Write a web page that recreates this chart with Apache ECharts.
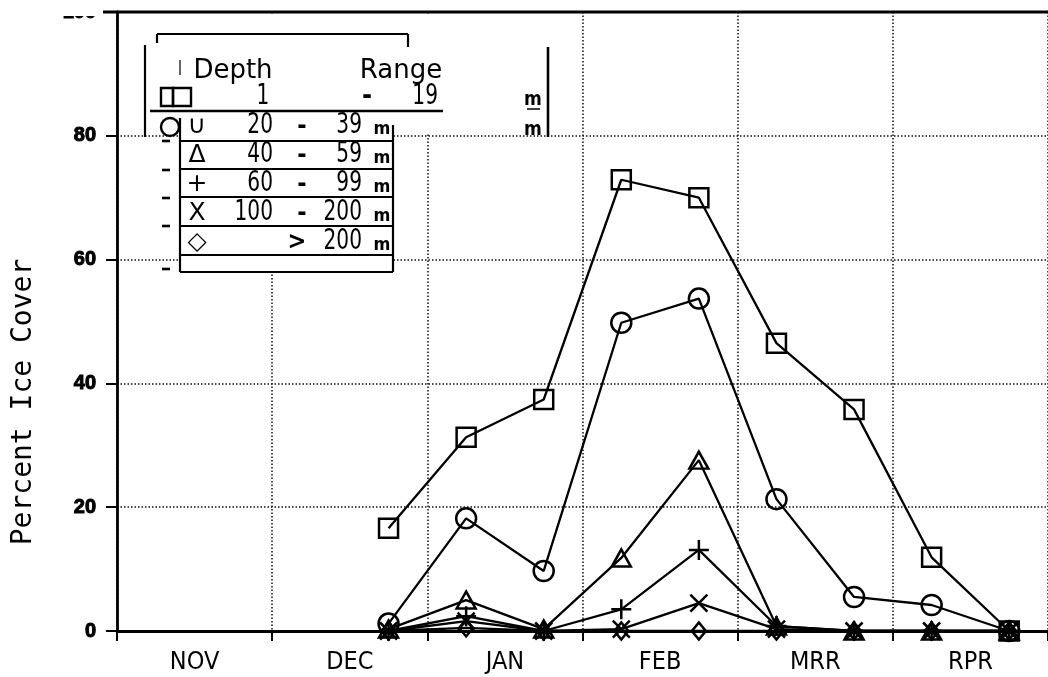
<!DOCTYPE html>
<html>
<head>
<meta charset="utf-8">
<script src="https://cdn.jsdelivr.net/npm/echarts@6/dist/echarts.min.js"></script>
<style>
html,body{margin:0;padding:0;background:#fff;}
#chart{width:1048px;height:677px;}
</style>
</head>
<body>
<div id="chart"></div>
<script>
// ---- data ----
const months = ['NOV', 'DEC', 'JAN', 'FEB', 'MRR', 'RPR'];
// sample positions in months after 1 November (semi-monthly)
const samplePos = [1.75, 2.25, 2.75, 3.25, 3.75, 4.25, 4.75, 5.25, 5.75];
const depth1to19   = [16.6, 31.3, 37.4, 72.9, 70.0, 46.5, 35.8, 11.9, 0];
const depth20to39  = [1.2, 18.2, 9.7, 49.8, 53.7, 21.3, 5.5, 4.2, 0];
const depth40to59  = [0.3, 5.0, 0.3, 11.8, 27.6, 0.8, 0, 0, 0];
const depth60to99  = [0, 2.4, 0, 3.5, 13.1, 0.8, 0, 0, 0];
const depth100to200= [0, 1.6, 0, 0.3, 4.5, 0.3, 0, 0, 0];
const depthOver200 = [0, 0.5, 0, 0, 0, 0, 0, 0, 0];
const yTicks = [0, 20, 40, 60, 80, 100];
const legendSymbols = ['', '\u222A', '\u0394', '+', 'X', '\u25C7'];
const legendFrom = ['1', '20', '40', '60', '100', ''];
const legendSep  = ['-', '-', '-', '-', '-', '>'];
const legendTo   = ['19', '39', '59', '99', '200', '200'];

const chart = echarts.init(document.getElementById('chart'), null, {renderer: 'canvas'});

function pts(arr) { return samplePos.map((x, i) => [x, arr[i]]); }

const baseSeries = {
  type: 'line', xAxisIndex: 0, yAxisIndex: 0,
  lineStyle: {color: '#000', width: 2.3},
  itemStyle: {color: 'none', borderColor: '#000', borderWidth: 2.5},
  emphasis: {disabled: true},
  silent: true, animation: false
};
const seriesDefs = [
  {name: '>200', data: depthOver200, symbol: 'diamond', symbolSize: [14, 17]},
  {name: '100-200', data: depth100to200, symbol: 'path://M0,0L20,20M20,0L0,20', symbolSize: 17},
  {name: '60-99', data: depth60to99, symbol: 'path://M10,0L10,20M0,10L20,10', symbolSize: 20},
  {name: '40-59', data: depth40to59, symbol: 'triangle', symbolSize: [19, 17]},
  {name: '20-39', data: depth20to39, symbol: 'circle', symbolSize: 20},
  {name: '1-19', data: depth1to19, symbol: 'rect', symbolSize: 19}
];
const series = seriesDefs.map(d => Object.assign({}, baseSeries, {
  name: d.name, data: pts(d.data), symbol: d.symbol, symbolSize: d.symbolSize, showAllSymbol: true
}));

// ---- legend graphics ----
const NUM = "'Liberation Sans Narrow', 'DejaVu Sans Condensed', sans-serif";
const G = [];
function txt(x, y, s, size, opts) {
  opts = opts || {};
  G.push({type: 'text', x: x, y: y, z: 101, silent: true, scaleX: opts.sx || 1, style: {
    text: s, fill: '#000',
    font: (opts.weight || 'normal') + ' ' + size + 'px ' + (opts.family || NUM),
    align: opts.align || 'center', verticalAlign: 'middle'
  }});
}
function ln(x1, y1, x2, y2, w) {
  G.push({type: 'line', z: 101, silent: true, shape: {x1: x1, y1: y1, x2: x2, y2: y2}, style: {stroke: '#000', lineWidth: w || 2}});
}
// white backing (legend covers the grid)
G.push({type: 'rect', z: 100, silent: true, shape: {x: 120, y: 14, width: 428, height: 120}, style: {fill: '#fff'}});
G.push({type: 'rect', z: 100, silent: true, shape: {x: 180, y: 111, width: 213, height: 161}, style: {fill: '#fff'}});
// cut-off "100" label at the very top
G.push({type: 'rect', z: 100, silent: true, shape: {x: 40, y: 0, width: 70, height: 16}, style: {fill: '#fff'}});
// frame
ln(157, 34, 408, 34, 2.2); ln(157, 34, 157, 43, 2.2); ln(408, 34, 408, 47, 2.2);
ln(145, 45, 145, 137, 2.2);
ln(548, 47, 548, 137, 2.6);
ln(180, 60, 180, 75, 1.2);
ln(150, 111, 443, 111, 2.6);
ln(180, 118, 180, 272, 2.2); ln(393, 125, 393, 272, 2.2); ln(180, 272, 393, 272, 2.2);
[141, 169, 197, 226, 255].forEach(y => ln(180, y, 393, y, 2.2));
[141, 170, 198, 226, 269].forEach(y => ln(162, y, 170, y, 2.6));
// header
txt(233, 71, 'Depth', 26, {family: 'DejaVu Sans'});
txt(401, 71, 'Range', 26, {family: 'DejaVu Sans'});
// row 1 symbol (double box) and row 2 circle
G.push({type: 'rect', z: 101, silent: true, shape: {x: 161, y: 88, width: 12, height: 18}, style: {fill: 'none', stroke: '#000', lineWidth: 2.4}});
G.push({type: 'rect', z: 101, silent: true, shape: {x: 173, y: 88, width: 18, height: 18}, style: {fill: 'none', stroke: '#000', lineWidth: 2.4}});
G.push({type: 'circle', z: 101, silent: true, shape: {cx: 170, cy: 127, r: 9}, style: {fill: 'none', stroke: '#000', lineWidth: 2.4}});
txt(263, 97, legendFrom[0], 28, {sx: 0.8});
txt(367, 97, legendSep[0], 27, {weight: 'bold'});
txt(438, 97, legendTo[0], 28, {align: 'right', sx: 0.8});
txt(533, 100, 'm', 19, {weight: 'bold'});
ln(527, 109, 540, 109, 1.5);
txt(533, 130, 'm', 19, {weight: 'bold'});
const rowY = [97, 126, 155, 184, 213, 242];
for (let i = 1; i < 6; i++) {
  const y = rowY[i];
  txt(197, y, legendSymbols[i], 25, {family: 'DejaVu Sans'});
  if (legendFrom[i]) txt(273, y, legendFrom[i], 28, {align: 'right', sx: 0.8});
  txt(i === 5 ? 297 : 302, y, legendSep[i], 25, {weight: 'bold'});
  txt(362, y, legendTo[i], 28, {align: 'right', sx: 0.8});
  txt(382, y + 3, 'm', 18, {weight: 'bold'});
}
// fix scaled text anchor: scaleX scales about the element origin, so right/center anchors stay put
// y-axis title
G.push({type: 'text', x: 24, y: 402, rotation: Math.PI / 2, z: 101, silent: true, style: {
  text: 'Percent Ice Cover', fill: '#000', font: "normal 28px 'DejaVu Sans Mono', monospace",
  align: 'center', verticalAlign: 'middle'
}});
// top frame line
ln(103, 12, 1048, 12, 3);

const gridDots = {color: '#111', width: 1.5, type: [1.5, 2]};

chart.setOption({
  animation: false,
  backgroundColor: '#fff',
  grid: {left: 117, top: 12, width: 940, height: 619, containLabel: false},
  xAxis: [
    {
      type: 'value', min: 0, max: 6, interval: 1, position: 'bottom',
      axisLine: {show: true, lineStyle: {color: '#000', width: 2.8}},
      axisTick: {show: true, length: 10, lineStyle: {color: '#000', width: 2}},
      axisLabel: {show: false},
      splitLine: {show: true, lineStyle: gridDots}
    },
    {
      type: 'category', data: months, boundaryGap: true, position: 'bottom',
      axisLine: {show: false}, axisTick: {show: false}, splitLine: {show: false},
      axisLabel: {show: true, color: '#000', fontSize: 25, fontFamily: NUM, margin: 19}
    }
  ],
  yAxis: {
    type: 'value', min: yTicks[0], max: yTicks[yTicks.length - 1], interval: 20,
    axisLine: {show: true, lineStyle: {color: '#000', width: 2.8}},
    axisTick: {show: true, length: 11, lineStyle: {color: '#000', width: 2}},
    axisLabel: {show: true, color: '#000', fontSize: 20, fontWeight: 'bold', fontFamily: "'Liberation Sans', Arial, sans-serif", margin: 21, textBorderColor: '#000', textBorderWidth: 1},
    splitLine: {show: true, lineStyle: gridDots}
  },
  series: series,
  graphic: {elements: G}
});
</script>
</body>
</html>
